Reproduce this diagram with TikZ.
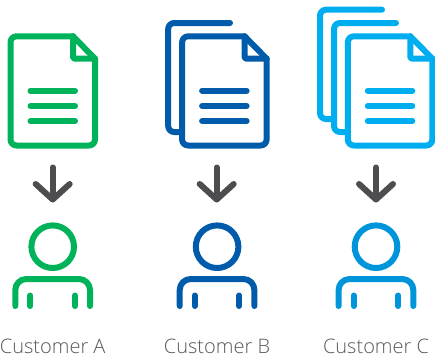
\documentclass[tikz,border=0pt]{standalone}
\usepackage{fontspec}
\setmainfont{Open Sans Light}
\definecolor{cga}{HTML}{00B259}
\definecolor{cgb}{HTML}{005BAB}
\definecolor{cgc}{HTML}{00AEEF}
\definecolor{cgd}{HTML}{0095DA}
\definecolor{arrowgray}{HTML}{4D4D4F}
\definecolor{labelgray}{HTML}{58595B}
\tikzset{
  icon/.style={line width=6pt,line cap=round,line join=round},
  downarrow/.style={line width=6pt,line cap=round,line join=round,draw=arrowgray},
  caption/.style={text=labelgray,font=\fontsize{20}{22}\selectfont,anchor=base},
}
\newcommand{\docicon}[2]{%
  \begin{scope}[xshift=#1pt,icon,draw=#2]
    \draw[rounded corners=6pt] (73,36.3) -- (10.5,36.3) -- (10.5,145.5) -- (95,145.5) -- (95,58.7);
    \draw (73,36.3) -- (95,58.7);
    \draw[rounded corners=2pt] (73,36.3) -- (73,58.7) -- (95,58.7);
    \draw (30.5,90.7) -- (75,90.7);
    \draw (30.5,106) -- (75,106);
    \draw (30.5,121) -- (75,121);
  \end{scope}}
\newcommand{\person}[2]{%
  \begin{scope}[xshift=#1pt,icon,draw=#2]
    \draw (52.7,246.7) circle[radius=21.3];
    \draw[rounded corners=11pt] (15.3,306) -- (15.3,279) -- (90,279) -- (90,306);
    \draw (30.3,295.5) -- (30.3,306);
    \draw (75,295.5) -- (75,306);
  \end{scope}}
\newcommand{\downarr}[1]{%
  \begin{scope}[xshift=#1pt]
    \draw[downarrow] (0,167.5) -- (0,199);
    \draw[downarrow] (-17,184) -- (0,199.5) -- (17,184);
  \end{scope}}
\begin{document}
\begin{tikzpicture}[x=1pt,y=-1pt]
\useasboundingbox (0,0) rectangle (435,359);
\docicon{0}{cga}
\begin{scope}[icon,draw=cgb]
  \draw[rounded corners=6pt] (230,23) -- (168.2,23) -- (168.2,132) -- (179,132);
\end{scope}
\docicon{171.6}{cgb}
\begin{scope}[icon,draw=cgc]
  \draw[rounded corners=6pt] (382,9.7) -- (320,9.7) -- (320,119) -- (332,119);
  \draw[rounded corners=6pt] (396,23) -- (334,23) -- (334,132) -- (346,132);
\end{scope}
\docicon{337.3}{cgc}
\downarr{52.7}
\downarr{216.7}
\downarr{376}
\person{0}{cga}
\person{164.4}{cgb}
\person{323.3}{cgd}
\node[caption] (a) at (52.7,353) {Customer A};
\node[caption] (b) at (217,353) {Customer B};
\node[caption] (c) at (376,353) {Customer C};
\end{tikzpicture}
\end{document}
